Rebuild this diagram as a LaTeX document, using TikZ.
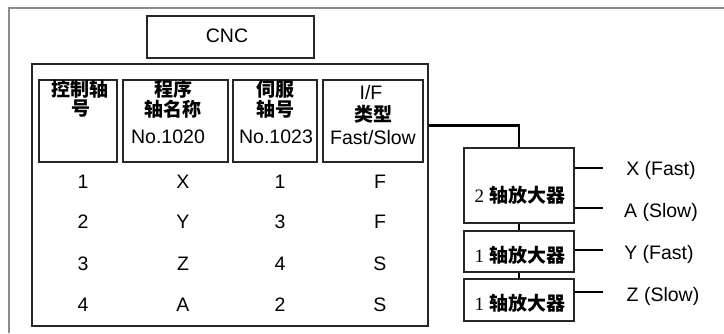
\documentclass[tikz,border=0pt]{standalone}
\usepackage{fontspec}
\setmainfont{Liberation Sans}
\newfontfamily\cjk{Noto Sans CJK SC}
\newfontfamily\tms{Liberation Serif}
\begin{document}
\begin{tikzpicture}[x=1pt,y=-1pt,
  box/.style={draw=black!85, line width=1.2pt, inner sep=0pt},
  conn/.style={draw=black, line width=2.2pt},
  lat/.style={font=\fontsize{19.5}{19.5}\selectfont, inner sep=0pt},
  cj/.style={font=\fontsize{19}{19}\selectfont\cjk\bfseries, inner sep=0pt},
  amp/.style={font=\fontsize{19}{19}\selectfont, inner sep=0pt}]
\useasboundingbox (0,0) rectangle (724,333);
\draw[black!45, line width=1.6pt] (9,333) -- (9,8) -- (724,8);
% CNC
\node[box, minimum width=167, minimum height=42] (cnc) at (230.5,37) {};
\node[lat] (cnct) at (227,36) {CNC};
% table
\node[box, minimum width=396, minimum height=262] (tbl) at (230,195) {};
\node[box, minimum width=78, minimum height=82] (h1) at (78,121) {};
\node[box, minimum width=105, minimum height=82] (h2) at (175.5,121) {};
\node[box, minimum width=84, minimum height=82] (h3) at (275,121) {};
\node[box, minimum width=100, minimum height=82] (h4) at (373,121) {};
\node[cj] (t11) at (80,89) {控制轴};
\node[cj] (t12) at (81,108.5) {号};
\node[cj] (t21) at (173,89) {程序};
\node[cj] (t22) at (173,109) {轴名称};
\node[lat] (t23) at (168,137) {No.1020};
\node[cj] (t31) at (275,89) {伺服};
\node[cj] (t32) at (275,109) {轴号};
\node[lat] (t33) at (276,137) {No.1023};
\node[lat] (t41) at (371,93) {I/F};
\node[cj] (t42) at (373,114) {类型};
\node[lat] (t43) at (373,138) {Fast/Slow};
% data
\foreach \r/\y in {1/182,2/222,3/264,4/305}{
  \node[lat] (c1\r) at (83,\y) {\r};
}
\node[lat] (c21) at (183,182) {X};
\node[lat] (c22) at (183,222) {Y};
\node[lat] (c23) at (183,264) {Z};
\node[lat] (c24) at (183,305) {A};
\node[lat] (c31) at (280,182) {1};
\node[lat] (c32) at (280,222) {3};
\node[lat] (c33) at (280,264) {4};
\node[lat] (c34) at (280,305) {2};
\node[lat] (c41) at (380,182) {F};
\node[lat] (c42) at (380,222) {F};
\node[lat] (c43) at (380,264) {S};
\node[lat] (c44) at (380,305) {S};
% amplifiers
\node[box, minimum width=110, minimum height=75] (a2) at (519,185.5) {};
\node[box, minimum width=110, minimum height=41] (ay) at (519,251.5) {};
\node[box, minimum width=110, minimum height=42] (az) at (519,300) {};
\node[amp] (a2t) at (520,195) {{\tms 2} {\cjk\bfseries 轴放大器}};
\node[amp] (ayt) at (520,255) {{\tms 1} {\cjk\bfseries 轴放大器}};
\node[amp] (azt) at (520,303) {{\tms 1} {\cjk\bfseries 轴放大器}};
% connectors
\draw[conn] (tbl.north east) ++(0,62) -| (a2.north);
\draw[conn] (a2.south) -- (ay.north);
\draw[conn] (ay.south) -- (az.north);
\draw[conn] (a2.east) ++(0,-17.5) -- ++(28,0) coordinate (xe);
\draw[conn] (a2.east) ++(0,22.5) -- ++(28,0) coordinate (ae);
\draw[conn] (ay.east) ++(0,-1.5) -- ++(28,0) coordinate (ye);
\draw[conn] (az.east) ++(0,-8) -- ++(28,0) coordinate (ze);
\node[lat] (xl) at (661,170) {X (Fast)};
\node[lat] (al) at (661,212) {A (Slow)};
\node[lat] (yl) at (659,254) {Y (Fast)};
\node[lat] (zl) at (663,296) {Z (Slow)};
\end{tikzpicture}
\end{document}
